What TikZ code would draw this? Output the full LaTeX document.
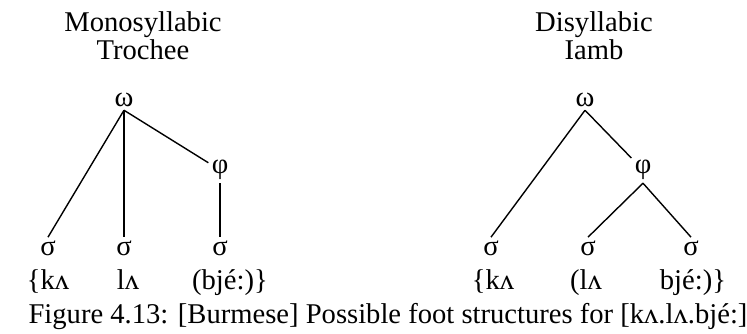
\documentclass[tikz,border=0pt]{standalone}
\usepackage{fontspec}
\setmainfont{Liberation Serif}
\begin{document}
\begin{tikzpicture}[
        x=0.5pt, y=-0.5pt,
        lab/.style={font=\fontsize{14.3}{14}\selectfont, inner sep=1.5pt},
        ttl/.style={lab, align=center},
        seg/.style={lab, anchor=base},
        branch/.style={line width=0.7pt}]
    \useasboundingbox (0,0) rectangle (747,333);

    % --- Monosyllabic trochee
    \node[ttl] (ttlL) at (143,36)  {Monosyllabic\\Trochee};
    \node[lab] (wL)   at (124,100) {ω};
    \node[lab] (fL)   at (220,170) {φ};
    \node[lab] (sL1)  at (48,248)  {σ};
    \node[lab] (sL2)  at (124,248) {σ};
    \node[lab] (sL3)  at (220,248) {σ};
    \node[seg] (tL1)  at (48,289)  {\{kʌ};
    \node[seg] (tL2)  at (128,289) {lʌ};
    \node[seg] (tL3)  at (230,289) {(bjé:)\}};
    \draw[branch] (wL.south) -- (sL1.north);
    \draw[branch] (wL.south) -- (sL2.north);
    \draw[branch] (wL.south) -- (fL);
    \draw[branch] (fL.south) -- (sL3.north);

    % --- Disyllabic iamb
    \node[ttl] (ttlR) at (594,36)  {Disyllabic\\Iamb};
    \node[lab] (wR)   at (585,100) {ω};
    \node[lab] (fR)   at (643,170) {φ};
    \node[lab] (sR1)  at (491,248) {σ};
    \node[lab] (sR2)  at (588,248) {σ};
    \node[lab] (sR3)  at (691,248) {σ};
    \node[seg] (tR1)  at (493,289) {\{kʌ};
    \node[seg] (tR2)  at (586,289) {(lʌ};
    \node[seg] (tR3)  at (693,289) {bjé:)\}};
    \draw[branch] (wR.south) -- (sR1.north);
    \draw[branch] (wR.south) -- (fR);
    \draw[branch] (fR.south) -- (sR2.north);
    \draw[branch] (fR.south) -- (sR3.north);

    \node[seg] (cap) at (388,323) {Figure 4.13: [Burmese] Possible foot structures for [kʌ.lʌ.bjé:]};
\end{tikzpicture}
\end{document}
